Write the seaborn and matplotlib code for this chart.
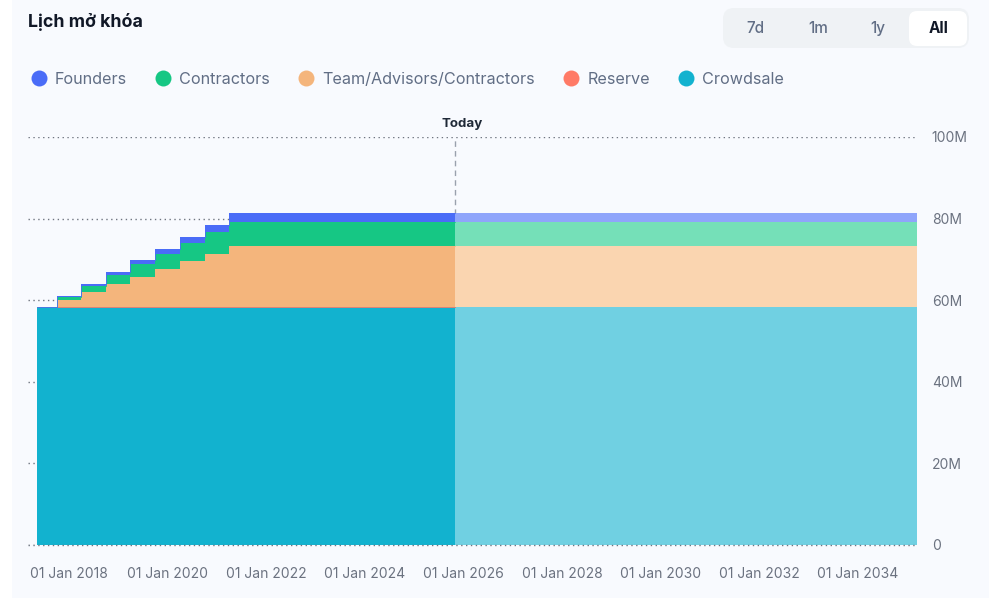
#!/usr/bin/env python3
import matplotlib
matplotlib.use("Agg")
import matplotlib.pyplot as plt
from matplotlib.lines import Line2D
from matplotlib.patches import FancyBboxPatch, Rectangle
import matplotlib.dates as mdates
import seaborn as sns
import numpy as np
import pandas as pd

# data, millions of tokens unlocked at each date
dates = ["2017-05-08", "2017-10-01", "2018-04-01", "2018-10-01", "2019-04-01", "2019-10-01",
         "2020-04-01", "2020-10-01", "2021-04-01", "2025-11-03", "2035-03-15"]
crowdsale = [58.25, 58.25, 58.25, 58.25, 58.25, 58.25, 58.25, 58.25, 58.25, 58.25, 58.25]
reserve = [0, 0, 0, 0, 0, 0, 0, 0, 0, 0, 0]
team = [0, 1.88, 3.75, 5.63, 7.5, 9.38, 11.25, 13.13, 15.0, 15.0, 15.0]
contractors = [0, 0.75, 1.5, 2.25, 3.0, 3.75, 4.5, 5.25, 6.0, 6.0, 6.0]
founders = [0, 0.25, 0.5, 0.75, 1.0, 1.25, 1.5, 1.75, 2.0, 2.0, 2.0]

today = "2025-11-03"
y_ticks = [0, 20, 40, 60, 80, 100]
y_labels = ["0", "20M", "40M", "60M", "80M", "100M"]
x_ticks = ["2018-01-01", "2020-01-01", "2022-01-01", "2024-01-01", "2026-01-01",
           "2028-01-01", "2030-01-01", "2032-01-01", "2034-01-01"]
legend_names = ["Founders", "Contractors", "Team/Advisors/Contractors", "Reserve", "Crowdsale"]
legend_colors = ["#4A6CF7", "#16C784", "#F4B57C", "#FF7A66", "#12B2CF"]
# same bands after today, washed out
future_colors = ["#8FA5FB", "#75E0B8", "#FAD5B0", "#FFB5A8", "#70D0E2"]
ranges = ["7d", "1m", "1y", "All"]

sns.set_theme(style="white")
plt.rcParams['font.family'] = ['Inter', 'DejaVu Sans']

fig = plt.figure(figsize=(10, 6), dpi=100, facecolor="white")

# pixel-coordinate layer for the card, title and buttons
bg = fig.add_axes([0, 0, 1, 1], zorder=0)
bg.set_xlim(0, 1000)
bg.set_ylim(600, 0)
bg.axis("off")
bg.add_patch(Rectangle((12, 0), 977, 598, facecolor="#F8FAFE", edgecolor="none"))
bg.text(28, 22, "Lịch mở khóa", fontsize=12.8, fontweight="bold", color="#111827", va="center")
bg.add_patch(FancyBboxPatch((723, 8), 246, 40, boxstyle="round,pad=0,rounding_size=11",
                            facecolor="#EFF2F5", edgecolor="none"))
bg.add_patch(FancyBboxPatch((909, 11), 58, 35, boxstyle="round,pad=0,rounding_size=8",
                            facecolor="white", edgecolor="none"))
for name, x in zip(ranges, [755, 818, 878, 939]):
    active = name == "All"
    bg.text(x, 28.5, name, ha="center", va="center", fontsize=11,
            fontweight="bold" if active else "medium", color="#111827" if active else "#616E85")

handles = [Line2D([], [], linestyle="none", marker="o", markersize=11.5, color=c, markeredgewidth=0)
           for c in legend_colors]
bg.legend(handles, legend_names, loc="center left", bbox_to_anchor=(0.0275, 1 - 79.5 / 600), ncol=5,
          frameon=False, fontsize=11.65, labelcolor="#616E85", handletextpad=0.3, columnspacing=1.53,
          handlelength=1.4, borderaxespad=0, borderpad=0)
bg.text(462, 124.5, "Today", ha="center", va="center", fontsize=9.6, fontweight="bold", color="#1F2937")

# main chart, axes box covers px x 28-917, y 137-545
ax = fig.add_axes([0.028, 1 - 545 / 600, 0.889, 408 / 600], zorder=1)
ax.set_facecolor("none")

t = pd.to_datetime(dates)
now = pd.Timestamp(today)
layers = [crowdsale, reserve, team, contractors, founders]
past = t <= now
future = t >= now

ax.stackplot(t[past], [np.array(v)[past] for v in layers], colors=legend_colors[::-1],
             step="post", linewidth=0, zorder=2)
ax.stackplot(t[future], [np.array(v)[future] for v in layers], colors=future_colors[::-1],
             step="post", linewidth=0, zorder=2)

# thin edge on top of each band up to today
tops = np.cumsum(np.array(layers), axis=0)
for top, c in zip(tops, legend_colors[::-1]):
    sns.lineplot(x=t[past], y=top[past], drawstyle="steps-post", color=c, linewidth=0.6,
                 estimator=None, ax=ax, zorder=3)

ax.axvline(now, color="#9AA1AD", linestyle=(0, (4, 3)), linewidth=1, zorder=1.5)
ax.axhline(0, color="#6F7580", linestyle=(0, (1, 2.5)), linewidth=1, zorder=5, clip_on=False)

ax.set_xlim(pd.Timestamp("2017-03-03"), pd.Timestamp("2035-03-15"))
ax.set_ylim(0, 100)
ax.set_yticks(y_ticks, y_labels)
ax.yaxis.tick_right()
ax.set_xticks(pd.to_datetime(x_ticks))
ax.xaxis.set_major_formatter(mdates.DateFormatter("%d %b %Y"))
ax.tick_params(axis="both", length=0, labelsize=10, labelcolor="#6B7280")
ax.tick_params(axis="x", pad=15.7)
ax.tick_params(axis="y", pad=10.7)
ax.set_xlabel("")
ax.set_ylabel("")
ax.grid(axis="y", color="#6F7580", linestyle=(0, (1, 2.5)), linewidth=1, zorder=1)
ax.set_axisbelow(True)
sns.despine(ax=ax, left=True, bottom=True, right=True, top=True)

fig.savefig("out.png", dpi=100, facecolor="white")
